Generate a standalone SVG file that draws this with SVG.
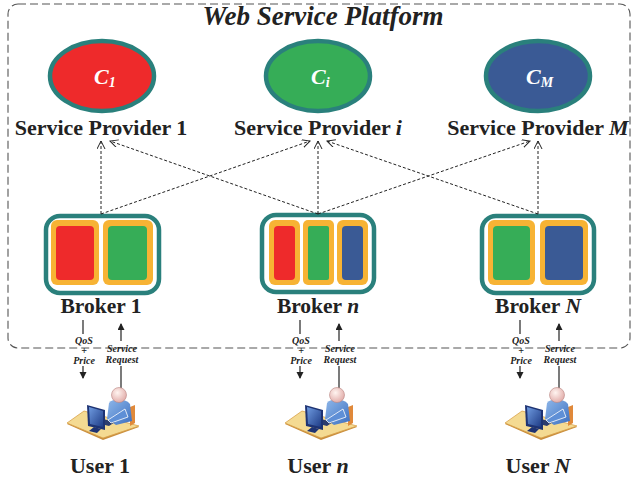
<svg xmlns="http://www.w3.org/2000/svg" width="632" height="482" viewBox="0 0 632 482">
<style>
.frame{fill:none;stroke:#555;stroke-width:1.1;stroke-dasharray:8 4}
.title{font-family:"Liberation Serif",serif;font-weight:bold;font-style:italic;font-size:27px;fill:#222}
.prov{stroke:#2A807C;stroke-width:4.5}
.clab{font-family:"Liberation Serif",serif;font-weight:bold;font-style:italic;font-size:22px;fill:#fff}
.lab{font-family:"Liberation Serif",serif;font-weight:bold;font-size:22px;fill:#222;text-anchor:middle}
.blab{font-family:"Liberation Serif",serif;font-weight:bold;font-size:21.5px;fill:#222;text-anchor:middle}
.ulab{font-family:"Liberation Serif",serif;font-weight:bold;font-size:22px;fill:#222;text-anchor:middle}
.conn{fill:none;stroke:#222;stroke-width:1;stroke-dasharray:3 2}
.bout{fill:#fff;stroke:#2A807C;stroke-width:4.5}
.pan{fill:#F7B334}
.red{fill:#EE2A2B}.grn{fill:#36AD57}.blu{fill:#3A5A95}
.small{font-family:"Liberation Serif",serif;font-weight:bold;font-style:italic;font-size:10px;fill:#222;text-anchor:middle}
.sol{fill:none;stroke:#222;stroke-width:1.2}
</style>
<defs>
<marker id="open" markerWidth="10" markerHeight="10" refX="8" refY="4" orient="auto" markerUnits="userSpaceOnUse">
<path d="M0,0 L8,4 L0,8" fill="none" stroke="#222" stroke-width="1"/>
</marker>
<marker id="solid" markerWidth="8" markerHeight="8" refX="6" refY="3.5" orient="auto" markerUnits="userSpaceOnUse">
<path d="M0,0 L7,3.5 L0,7 Z" fill="#222"/>
</marker>
<linearGradient id="body" x1="0" y1="0" x2="1" y2="1">
<stop offset="0" stop-color="#8FB8EA"/><stop offset="1" stop-color="#3C6FC0"/>
</linearGradient>
<radialGradient id="head" cx="0.4" cy="0.35" r="0.7">
<stop offset="0" stop-color="#FFF4F0"/><stop offset="1" stop-color="#E0A9A6"/>
</radialGradient>
<linearGradient id="scr" x1="0" y1="0" x2="1" y2="1">
<stop offset="0" stop-color="#6F9BE0"/><stop offset="1" stop-color="#1F3C86"/>
</linearGradient>
<g id="usericon">
<polygon points="-52,29 -35,17 20,32 -16,45" fill="#C98E3C"/>
<polygon points="-52,28 -35,16 20,31 -16,43" fill="#F4DA92" stroke="#D9A24B" stroke-width="0.8"/>
<polygon points="11,12 16,10 16,28 11,31" fill="#E0893A"/>
<path d="M-10,8 C-6,3 6,3 11,9 L13,26 L-3,30 L-12,24 Z" fill="url(#body)"/>
<circle cx="0" cy="0" r="7.5" fill="url(#head)" stroke="#B98582" stroke-width="0.6"/>
<polygon points="-16,24 -4,27 -10,31 -22,28" fill="#2D3D6E"/>
<path d="M6,14 L9,22 L-8,28 L-11,25 Z" fill="#5E8FD6" stroke="#fff" stroke-width="0.8"/>
<polygon points="-32,10 -14,15 -14,35 -31,31" fill="#1E3373"/>
<polygon points="-30,12 -16,16 -16,32 -29,29" fill="url(#scr)"/>
<polygon points="-25,32 -18,34 -22,38 -30,36" fill="#1E3373"/>
</g>
</defs>

<rect class="frame" x="8" y="4" width="622" height="344" rx="10"/>
<text class="title" x="323" y="25" text-anchor="middle">Web Service Platform</text>

<g id="provider-1">
<ellipse class="prov" cx="102" cy="76" rx="52" ry="35" fill="#EE2A2B"/>
<text class="clab" x="94" y="84">C<tspan font-size="14" dy="3">1</tspan></text>
<text class="lab" x="101" y="135">Service Provider 1</text>
</g>
<g id="provider-i">
<ellipse class="prov" cx="318" cy="76" rx="52" ry="35" fill="#36AD57"/>
<text class="clab" x="311" y="84">C<tspan font-size="14" dy="3">i</tspan></text>
<text class="lab" x="318" y="135">Service Provider <tspan font-style="italic">i</tspan></text>
</g>
<g id="provider-M">
<ellipse class="prov" cx="538" cy="76" rx="52" ry="35" fill="#3A5A95"/>
<text class="clab" x="526" y="84">C<tspan font-size="14" dy="3">M</tspan></text>
<text class="lab" x="538" y="135">Service Provider <tspan font-style="italic">M</tspan></text>
</g>

<g id="broker-1">
<rect class="bout" x="46" y="216" width="113" height="77" rx="14"/>
<rect class="pan" x="51" y="220" width="48" height="65" rx="6"/>
<rect class="pan" x="103" y="220" width="50" height="65" rx="6"/>
<rect class="red" x="56" y="226" width="38" height="54" rx="4"/>
<rect class="grn" x="108" y="226" width="39" height="54" rx="4"/>
<text class="blab" x="101" y="313">Broker 1</text>
</g>
<g id="broker-n">
<rect class="bout" x="262" y="215" width="112" height="77" rx="14"/>
<rect class="pan" x="269" y="220" width="31" height="65" rx="6"/>
<rect class="pan" x="303" y="220" width="31" height="65" rx="5"/>
<rect class="pan" x="337" y="220" width="31" height="65" rx="6"/>
<rect class="red" x="274" y="226" width="21" height="54" rx="4"/>
<rect class="grn" x="308" y="226" width="21" height="54" rx="2"/>
<rect class="blu" x="342" y="226" width="21" height="54" rx="4"/>
<text class="blab" x="318" y="313">Broker <tspan font-style="italic">n</tspan></text>
</g>
<g id="broker-N">
<rect class="bout" x="482" y="216" width="112" height="77" rx="14"/>
<rect class="pan" x="488" y="220" width="47" height="65" rx="6"/>
<rect class="pan" x="540" y="220" width="48" height="65" rx="6"/>
<rect class="grn" x="493" y="226" width="37" height="54" rx="4"/>
<rect class="blu" x="545" y="226" width="38" height="54" rx="4"/>
<text class="blab" x="538" y="313">Broker <tspan font-style="italic">N</tspan></text>
</g>

<g id="connectors">
<line class="conn" x1="101" y1="214" x2="101" y2="141" marker-end="url(#open)"/>
<line class="conn" x1="101" y1="214" x2="310" y2="141" marker-end="url(#open)"/>
<line class="conn" x1="318" y1="214" x2="110" y2="141" marker-end="url(#open)"/>
<line class="conn" x1="318" y1="214" x2="318" y2="141" marker-end="url(#open)"/>
<line class="conn" x1="318" y1="214" x2="530" y2="141" marker-end="url(#open)"/>
<line class="conn" x1="538" y1="214" x2="327" y2="141" marker-end="url(#open)"/>
<line class="conn" x1="538" y1="214" x2="538" y2="141" marker-end="url(#open)"/>

<line class="sol" x1="83" y1="320" x2="83" y2="334"/>
<line class="sol" x1="83" y1="366" x2="83" y2="378" marker-end="url(#solid)"/>
<line class="sol" x1="121" y1="394" x2="121" y2="366"/>
<line class="sol" x1="121" y1="341" x2="121" y2="324" marker-end="url(#solid)"/>
<line class="sol" x1="300" y1="320" x2="300" y2="334"/>
<line class="sol" x1="300" y1="366" x2="300" y2="378" marker-end="url(#solid)"/>
<line class="sol" x1="339" y1="394" x2="339" y2="366"/>
<line class="sol" x1="339" y1="341" x2="339" y2="324" marker-end="url(#solid)"/>
<line class="sol" x1="520" y1="320" x2="520" y2="334"/>
<line class="sol" x1="520" y1="366" x2="520" y2="378" marker-end="url(#solid)"/>
<line class="sol" x1="559" y1="394" x2="559" y2="366"/>
<line class="sol" x1="559" y1="341" x2="559" y2="324" marker-end="url(#solid)"/>
</g>

<g id="labels-qos">
<text class="small" x="84" y="344">QoS</text>
<text class="small" x="84" y="354">+</text>
<text class="small" x="84" y="364">Price</text>
<text class="small" x="122" y="352">Service</text>
<text class="small" x="122" y="363">Request</text>
<text class="small" x="301" y="344">QoS</text>
<text class="small" x="301" y="354">+</text>
<text class="small" x="301" y="364">Price</text>
<text class="small" x="340" y="352">Service</text>
<text class="small" x="340" y="363">Request</text>
<text class="small" x="521" y="344">QoS</text>
<text class="small" x="521" y="354">+</text>
<text class="small" x="521" y="364">Price</text>
<text class="small" x="560" y="352">Service</text>
<text class="small" x="560" y="363">Request</text>
</g>

<g id="user-1">
<use href="#usericon" x="119" y="395"/>
<text class="ulab" x="100" y="473">User 1</text>
</g>
<g id="user-n">
<use href="#usericon" x="337" y="395"/>
<text class="ulab" x="318" y="473">User <tspan font-style="italic">n</tspan></text>
</g>
<g id="user-N">
<use href="#usericon" x="557" y="395"/>
<text class="ulab" x="538" y="473">User <tspan font-style="italic">N</tspan></text>
</g>
</svg>
